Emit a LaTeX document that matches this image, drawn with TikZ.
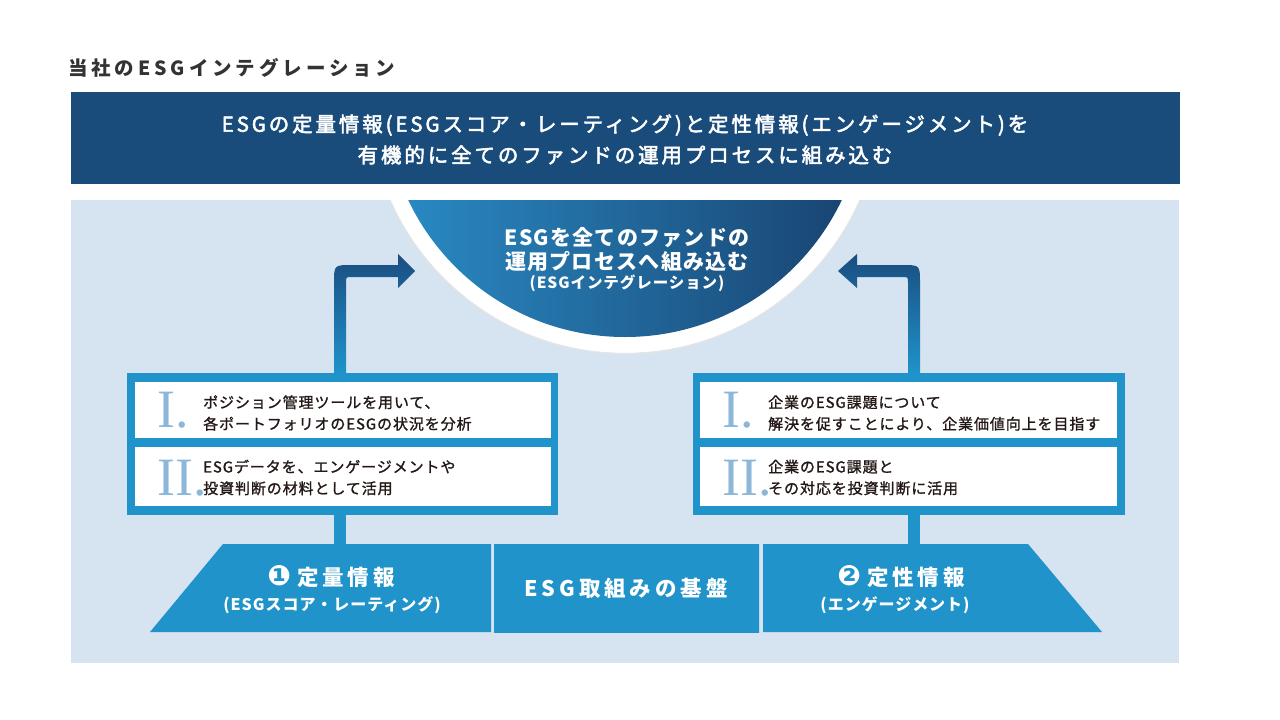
\documentclass[tikz,border=0pt]{standalone}
\usepackage{fontspec}
\setmainfont{Noto Sans CJK JP}
\newfontfamily\jp{Noto Sans CJK JP}
\newfontfamily\jpt[LetterSpace=20]{Noto Sans CJK JP}
\newfontfamily\jpb[LetterSpace=14, FakeBold=2.5]{Noto Sans CJK JP}
\newfontfamily\jpc[LetterSpace=6]{Noto Sans CJK JP}
\newfontfamily\jps[LetterSpace=6, FakeBold=1.2]{Noto Sans CJK JP}
\newfontfamily\jph[LetterSpace=18]{Noto Sans CJK JP}
\newfontfamily\numserif{Liberation Serif}
\newfontfamily\dv{DejaVu Sans}
\definecolor{navy}{HTML}{194B7B}
\definecolor{midblue}{HTML}{1F93CA}
\definecolor{panelbg}{HTML}{D6E3F0}
\definecolor{numblue}{HTML}{8DB7D9}
\definecolor{txt}{HTML}{231815}
\definecolor{ttl}{HTML}{333333}
\definecolor{semileft}{HTML}{2A8CC6}
\definecolor{semimid}{HTML}{1D5C93}
\definecolor{semiright}{HTML}{18426F}
\definecolor{arrtop}{HTML}{1A4D80}
\definecolor{basedark}{HTML}{0B56A0}
\tikzset{
  frame/.style={fill=midblue, anchor=north west, inner sep=0pt, outer sep=0pt},
  whitebox/.style={fill=white, anchor=north west, inner sep=0pt, outer sep=0pt},
  numeral/.style={anchor=base west, inner sep=0pt, text=numblue, font=\numserif\fontsize{54}{54}\selectfont},
  boxtext/.style={anchor=west, inner sep=0pt, align=left, text=txt, font=\jps\fontsize{15}{21.5}\selectfont},
  semitext/.style={text=white, inner sep=0pt},
  traptext/.style={text=white, inner sep=0pt},
}
\begin{document}
\begin{tikzpicture}[x=1pt,y=-1pt]
\useasboundingbox (0,0) rectangle (1280,720);
\fill[white] (0,0) rectangle (1280,720);

% title
\node[anchor=west, inner sep=0pt, text=ttl, font=\jpt\fontsize{19.5}{22}\selectfont\bfseries] (title) at (68,68) {当社のESGインテグレーション};

% banner
\fill[navy] (71,92) rectangle (1180,184);
\node[text=white, align=center, inner sep=0pt, font=\jpb\fontsize{20.5}{31}\selectfont] (banner) at (625,139.5)
  {ESGの定量情報(ESGスコア・レーティング)と定性情報(エンゲージメント)を\\有機的に全てのファンドの運用プロセスに組み込む};

% panel
\fill[panelbg] (71,200) rectangle (1179,663);

% semicircle with white ring
\begin{scope}
  \clip (60,184) rectangle (1200,400);
  \fill[white] (625,97) circle[radius=256];
\end{scope}
\begin{scope}
  \clip (60,200) rectangle (1200,400);
  \draw[black!10, line width=1.2pt] (625,97) circle[radius=256.5];
  \shade[left color=semileft, middle color=semimid, right color=semiright] (625,97) circle[radius=240];
\end{scope}
\node[semitext, font=\jpc\fontsize{21}{21}\selectfont\bfseries] (sc1) at (627,238) {ESGを全てのファンドの};
\node[semitext, font=\jpc\fontsize{21}{21}\selectfont\bfseries] (sc2) at (627,261) {運用プロセスへ組み込む};
\node[semitext, font=\jpc\fontsize{15.5}{15}\selectfont\bfseries] (sc3) at (627,283) {(ESGインテグレーション)};

% arrows
\shade[top color=arrtop, bottom color=midblue]
  (334,373) -- (334,283) .. controls (334,265) .. (352,265) -- (398,265) -- (398,254)
  -- (415,271) -- (398,288) -- (398,277) -- (352,277) .. controls (346,277) .. (346,283)
  -- (346,373) -- cycle;
\shade[top color=arrtop, bottom color=midblue]
  (920,373) -- (920,283) .. controls (920,265) .. (902,265) -- (857,265) -- (857,254)
  -- (838,271) -- (857,288) -- (857,277) -- (902,277) .. controls (908,277) .. (908,283)
  -- (908,373) -- cycle;

% left box
\node[frame, minimum width=431, minimum height=142] (lframe) at (127,373) {};
\node[whitebox, minimum width=416, minimum height=56] (lb1) at (135,382) {};
\node[whitebox, minimum width=416, minimum height=59] (lb2) at (135,447) {};
\node[numeral] (lnum1) at (157,427) {I.};
\node[numeral] (lnum2) at (157,495) {II.};
\node[boxtext] (lt1) at (203,413) {ポジション管理ツールを用いて、\\各ポートフォリオのESGの状況を分析};
\node[boxtext] (lt2) at (203,477.5) {ESGデータを、エンゲージメントや\\投資判断の材料として活用};

% right box
\node[frame, minimum width=432, minimum height=142] (rframe) at (693,373) {};
\node[whitebox, minimum width=417, minimum height=56] (rb1) at (700,382) {};
\node[whitebox, minimum width=417, minimum height=59] (rb2) at (700,447) {};
\node[numeral] (rnum1) at (722,427) {I.};
\node[numeral] (rnum2) at (722,495) {II.};
\node[boxtext] (rt1) at (768,413) {企業のESG課題について\\解決を促すことにより、企業価値向上を目指す};
\node[boxtext] (rt2) at (768,477.5) {企業のESG課題と\\その対応を投資判断に活用};

% stems
\fill[midblue] (334,514) rectangle (346,545);
\fill[midblue] (908,514) rectangle (920,545);

% base
\fill[midblue] (223,544) -- (491,544) -- (491,632) -- (150,632) -- cycle;
\shade[left color=midblue, middle color=basedark, right color=midblue] (494,544) rectangle (759,632);
\fill[midblue] (763,544) -- (1028,544) -- (1102,632) -- (763,632) -- cycle;

\node[traptext, font=\jph\fontsize{21.5}{21}\selectfont\bfseries] (q1) at (331,577) {{\dv\fontsize{28}{28}\selectfont ❶}\hspace{6pt}定量情報};
\node[traptext, font=\jpc\fontsize{16}{16}\selectfont\bfseries] (q2) at (332,605) {(ESGスコア・レーティング)};
\node[traptext, font=\jph\fontsize{21.5}{21}\selectfont\bfseries] (base) at (626,588) {ESG取組みの基盤};
\node[traptext, font=\jph\fontsize{21.5}{21}\selectfont\bfseries] (e1) at (901,577) {{\dv\fontsize{28}{28}\selectfont ❷}\hspace{6pt}定性情報};
\node[traptext, font=\jpc\fontsize{16}{16}\selectfont\bfseries] (e2) at (895,605) {(エンゲージメント)};
\end{tikzpicture}
\end{document}
